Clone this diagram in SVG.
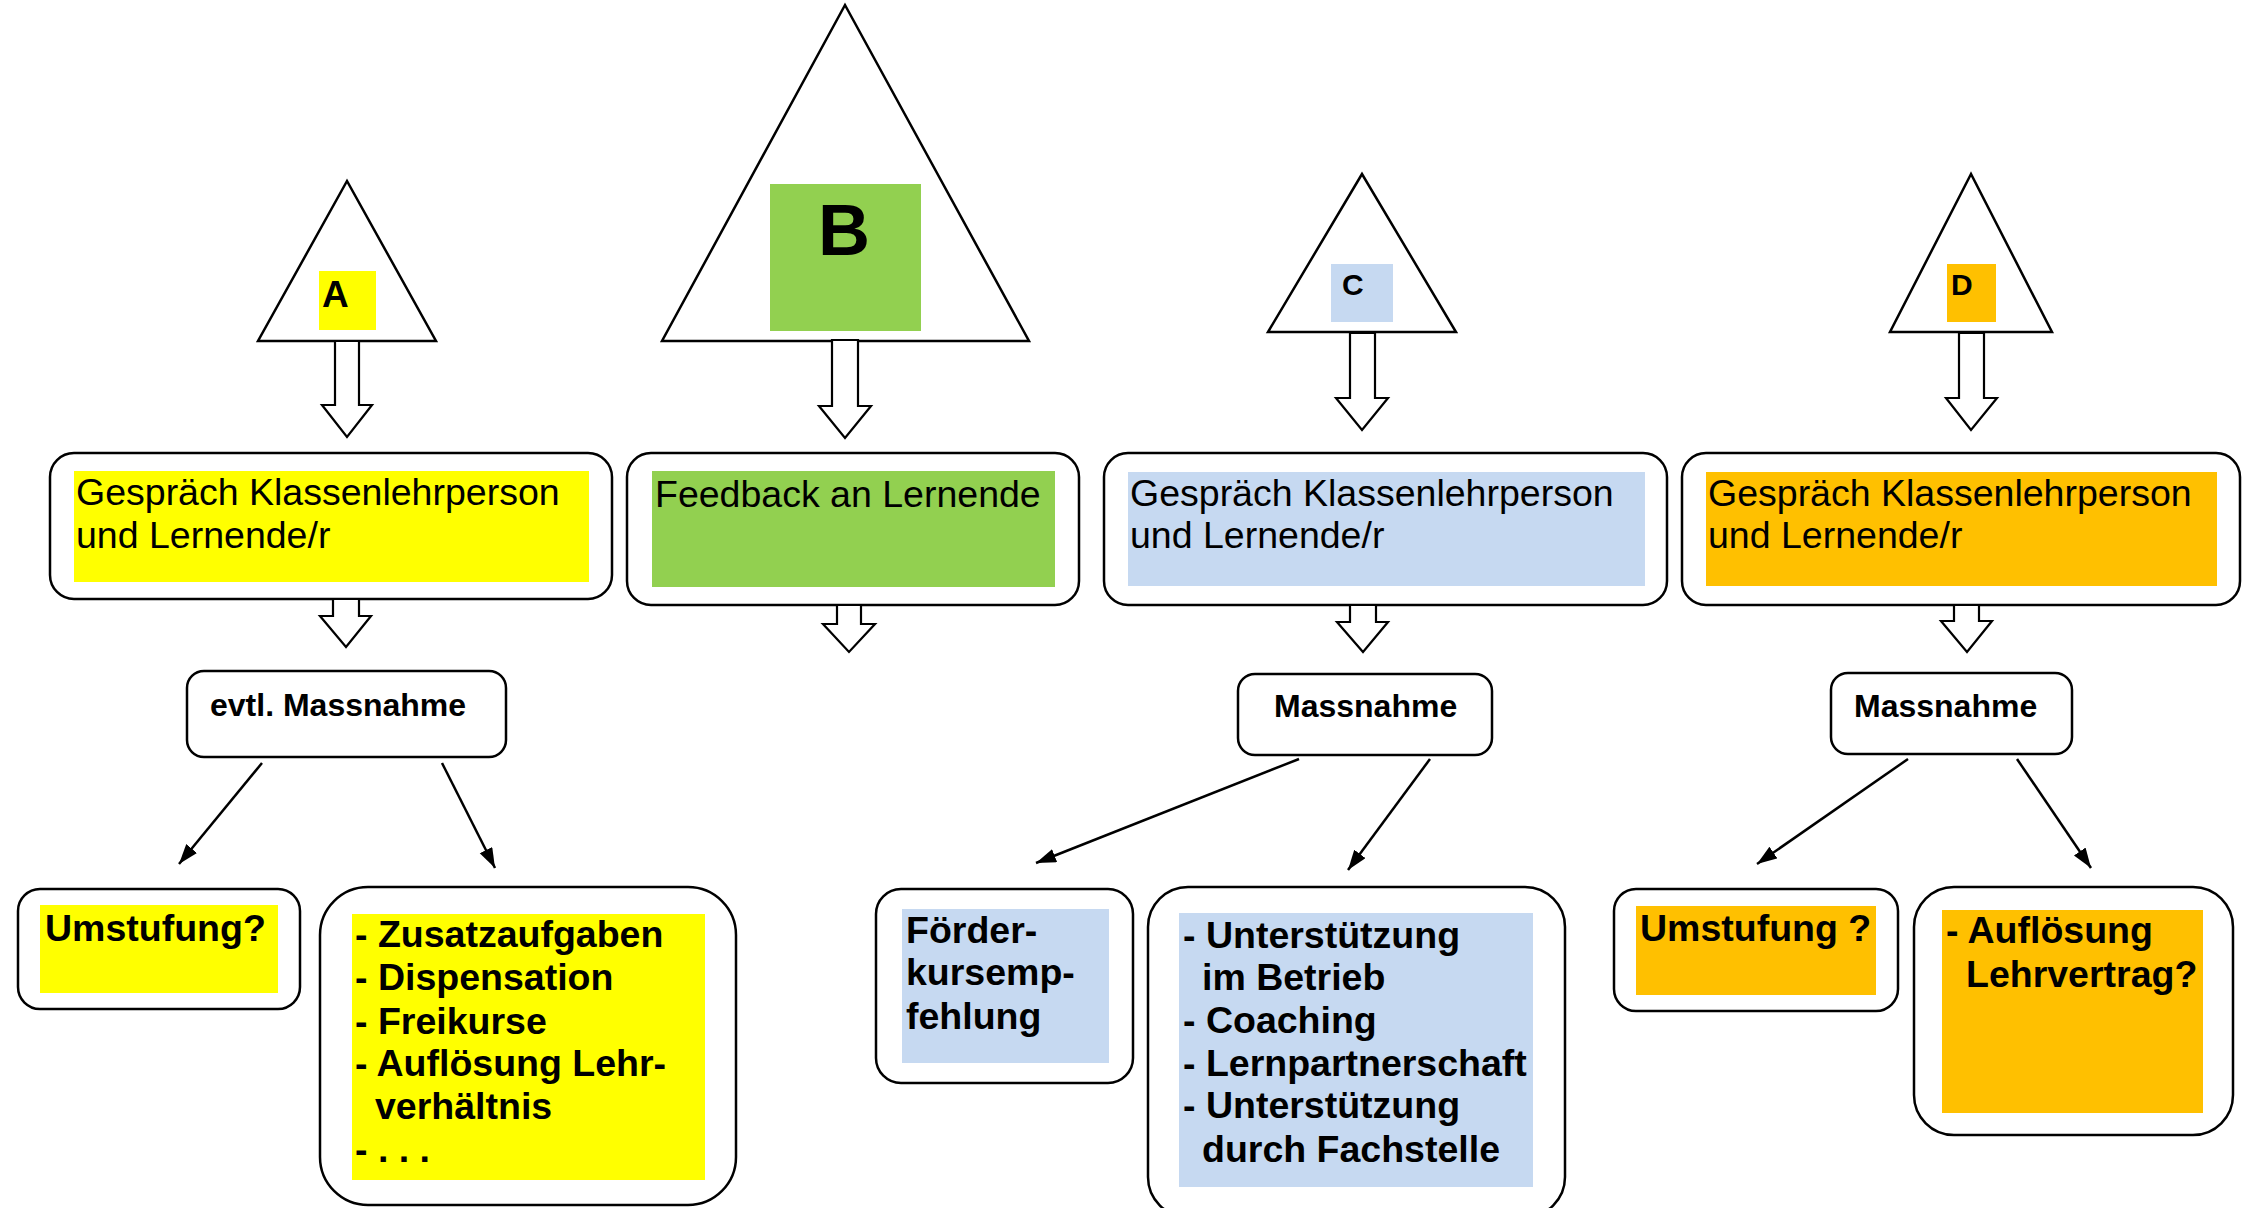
<svg xmlns="http://www.w3.org/2000/svg" width="2243" height="1208" viewBox="0 0 2243 1208">
<defs>
<style>
.tri{fill:#fff;stroke:#000;stroke-width:2.5;stroke-linejoin:miter}
.box{fill:#fff;stroke:#000;stroke-width:2.5}
.barrow{fill:#fff;stroke:#000;stroke-width:2.2;stroke-linejoin:miter}
.con{stroke:#000;stroke-width:2.5;fill:none}
.y{fill:#FFFF00}.g{fill:#92D050}.b{fill:#C6D9F1}.o{fill:#FFC000}
.t{font-family:"Liberation Sans",Arial,sans-serif;font-size:37.5px;fill:#000}
.tb{font-family:"Liberation Sans",Arial,sans-serif;font-size:37.5px;font-weight:bold;fill:#000}
.tm{font-family:"Liberation Sans",Arial,sans-serif;font-size:32px;font-weight:bold;fill:#000}
</style>
<marker id="ah" markerUnits="userSpaceOnUse" markerWidth="22" markerHeight="16" refX="20" refY="7" orient="auto">
<path d="M0,0 L20,7 L0,14 z" fill="#000"/>
</marker>
</defs>
<rect width="2243" height="1208" fill="#fff"/>

<g id="triA">
<polygon class="tri" points="347,181 258,341 436,341"/>
<rect class="y" x="319" y="271" width="57" height="59"/>
<text class="tb" x="322" y="307" style="font-size:37px">A</text>
</g>
<g id="triB">
<polygon class="tri" points="845,5 662,341 1029,341"/>
<rect class="g" x="770" y="184" width="151" height="147"/>
<text class="tb" x="818" y="255" style="font-size:72px">B</text>
</g>
<g id="triC">
<polygon class="tri" points="1362,174 1268,332 1456,332"/>
<rect class="b" x="1331" y="264" width="62" height="58"/>
<text class="tb" x="1342" y="295" style="font-size:30px">C</text>
</g>
<g id="triD">
<polygon class="tri" points="1971,174 1890,332 2052,332"/>
<rect class="o" x="1947" y="264" width="49" height="58"/>
<text class="tb" x="1951" y="295" style="font-size:30px">D</text>
</g>

<g id="boxA">
<rect class="box" x="50" y="453" width="562" height="146" rx="24"/>
<rect class="y" x="74" y="471" width="515" height="111"/>
<text class="t" x="76" y="505">Gespräch Klassenlehrperson</text>
<text class="t" x="76" y="548">und Lernende/r</text>
</g>
<g id="boxB">
<rect class="box" x="627" y="453" width="452" height="152" rx="24"/>
<rect class="g" x="652" y="471" width="403" height="116"/>
<text class="t" x="655" y="507">Feedback an Lernende</text>
</g>
<g id="boxC">
<rect class="box" x="1104" y="453" width="563" height="152" rx="24"/>
<rect class="b" x="1128" y="472" width="517" height="114"/>
<text class="t" x="1130" y="506">Gespräch Klassenlehrperson</text>
<text class="t" x="1130" y="548">und Lernende/r</text>
</g>
<g id="boxD">
<rect class="box" x="1682" y="453" width="558" height="152" rx="24"/>
<rect class="o" x="1706" y="472" width="511" height="114"/>
<text class="t" x="1708" y="506">Gespräch Klassenlehrperson</text>
<text class="t" x="1708" y="548">und Lernende/r</text>
</g>

<g id="massA">
<rect class="box" x="187" y="671" width="319" height="86" rx="17"/>
<text class="tm" x="210" y="716">evtl. Massnahme</text>
</g>
<g id="massC">
<rect class="box" x="1238" y="674" width="254" height="81" rx="17"/>
<text class="tm" x="1274" y="717">Massnahme</text>
</g>
<g id="massD">
<rect class="box" x="1831" y="673" width="241" height="81" rx="17"/>
<text class="tm" x="1854" y="717">Massnahme</text>
</g>

<g id="umstA">
<rect class="box" x="18" y="889" width="282" height="120" rx="22"/>
<rect class="y" x="40" y="905" width="238" height="88"/>
<text class="tb" x="45" y="941">Umstufung?</text>
</g>
<g id="listA">
<rect class="box" x="320" y="887" width="416" height="318" rx="48"/>
<rect class="y" x="352" y="914" width="353" height="266"/>
<text class="tb" x="355" y="947">- Zusatzaufgaben</text>
<text class="tb" x="355" y="990">- Dispensation</text>
<text class="tb" x="355" y="1034">- Freikurse</text>
<text class="tb" x="355" y="1076">- Auflösung Lehr-</text>
<text class="tb" x="375" y="1119">verhältnis</text>
<text class="tb" x="355" y="1162">- . . .</text>
</g>
<g id="foerC">
<rect class="box" x="876" y="889" width="257" height="194" rx="25"/>
<rect class="b" x="902" y="909" width="207" height="154"/>
<text class="tb" x="906" y="943">Förder-</text>
<text class="tb" x="906" y="985">kursemp-</text>
<text class="tb" x="906" y="1029">fehlung</text>
</g>
<g id="listC">
<rect class="box" x="1148" y="887" width="417" height="330" rx="40"/>
<rect class="b" x="1179" y="913" width="354" height="274"/>
<text class="tb" x="1183" y="948">- Unterstützung</text>
<text class="tb" x="1202" y="990">im Betrieb</text>
<text class="tb" x="1183" y="1033">- Coaching</text>
<text class="tb" x="1183" y="1076">- Lernpartnerschaft</text>
<text class="tb" x="1183" y="1118">- Unterstützung</text>
<text class="tb" x="1202" y="1162">durch Fachstelle</text>
</g>
<g id="umstD">
<rect class="box" x="1614" y="889" width="284" height="122" rx="22"/>
<rect class="o" x="1636" y="906" width="240" height="89"/>
<text class="tb" x="1640" y="941">Umstufung ?</text>
</g>
<g id="listD">
<rect class="box" x="1914" y="887" width="319" height="248" rx="40"/>
<rect class="o" x="1942" y="910" width="261" height="203"/>
<text class="tb" x="1946" y="943">- Auflösung</text>
<text class="tb" x="1966" y="987">Lehrvertrag?</text>
</g>

<g id="connectors">
<polygon class="barrow" points="335,341 359,341 359,405 372,405 347,437 322,405 335,405"/>
<polygon class="barrow" points="832,340 858,340 858,406 871,406 845,438 819,406 832,406"/>
<polygon class="barrow" points="1350,333 1375,333 1375,398 1388,398 1362,430 1336,398 1350,398"/>
<polygon class="barrow" points="1959,333 1984,333 1984,398 1997,398 1971,430 1946,398 1959,398"/>
<polygon class="barrow" points="333,599 359,599 359,616 371,616 346,647 320,616 333,616"/>
<polygon class="barrow" points="837,605 861,605 861,624 875,624 849,652 823,624 837,624"/>
<polygon class="barrow" points="1350,605 1376,605 1376,622 1388,622 1363,652 1337,622 1350,622"/>
<polygon class="barrow" points="1954,605 1979,605 1979,621 1992,621 1967,652 1941,621 1954,621"/>
<line class="con" x1="262" y1="763" x2="179" y2="864" marker-end="url(#ah)"/>
<line class="con" x1="442" y1="763" x2="495" y2="868" marker-end="url(#ah)"/>
<line class="con" x1="1299" y1="759" x2="1036" y2="863" marker-end="url(#ah)"/>
<line class="con" x1="1430" y1="759" x2="1348" y2="870" marker-end="url(#ah)"/>
<line class="con" x1="1908" y1="759" x2="1757" y2="864" marker-end="url(#ah)"/>
<line class="con" x1="2017" y1="759" x2="2091" y2="868" marker-end="url(#ah)"/>
</g>
</svg>
